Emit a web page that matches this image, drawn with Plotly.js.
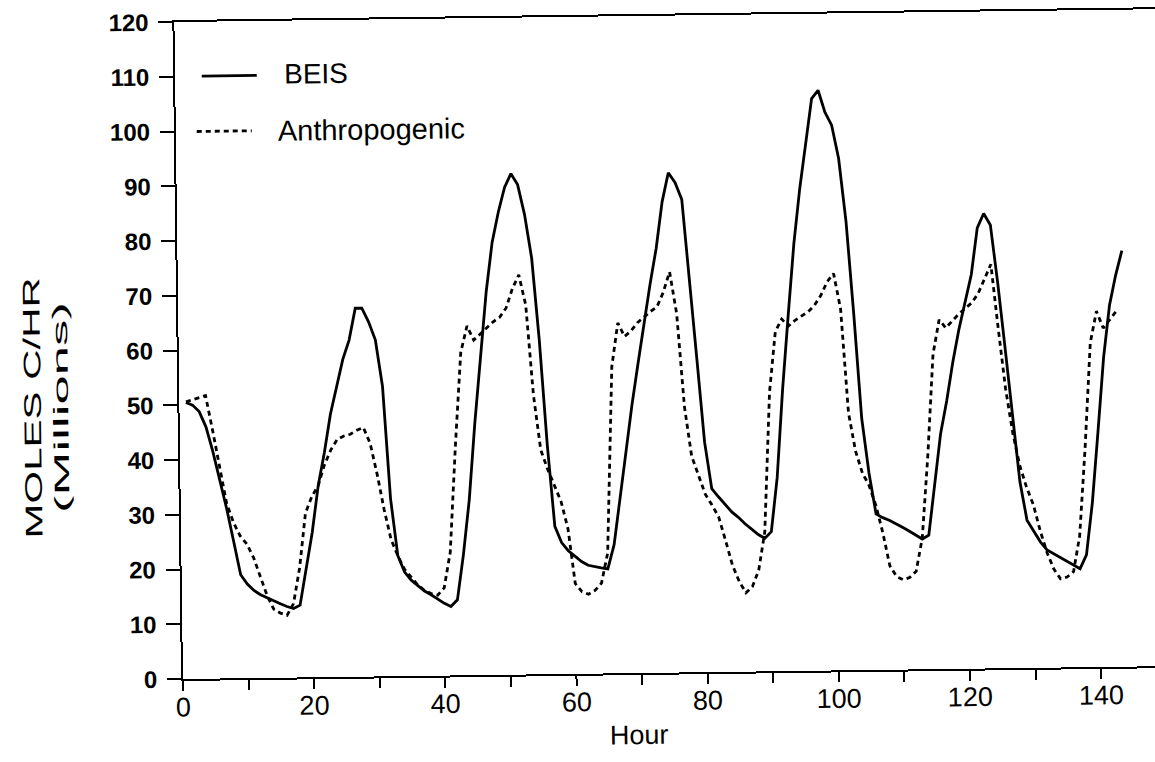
<!DOCTYPE html>
<html>
<head>
<meta charset="utf-8">
<script src="https://cdn.plot.ly/plotly-3.0.1.min.js"></script>
<style>
html, body { margin: 0; padding: 0; background: #ffffff; overflow: hidden; width: 1155px; height: 762px; }
#chart { width: 1170px; height: 762px; transform: rotate(-0.75deg); transform-origin: 183px 679px; }
</style>
</head>
<body>
<div id="chart"></div>
<script>
// Hours and values
var beisHours = [1,2,3,4,5,6,7,8,9,10,11,12,13,14,15,16,17,18,19,20,21,22,23,24,25,26,27,28,29,30,
  31,32,33,34,35,36,37,38,39,40,41,42,43,44,45,46,47,48,49,50,51,52,53,54,55,56,57,58,59,60,
  61,62,63,64,65,66,67,68,69,70,71,72,73,74,75,76,77,78,79,80,81,82,83,84,85,86,87,88,89,90,
  91,92,93,94,95,96,97,98,99,100,101,102,103,104,105,106,107,108,109,110,111,112,113,114,115,116,117,118,119,120,
  121,122,123,124,125,126,127,128,129,130,131,132,133,134,135,136,137,138,139,140,141,142,143,144];
var beisValues = [50.5,50,48.8,46,41.5,36.3,31,25,18.9,17.2,16,15.2,14.6,14,13.5,13,12.6,13.2,20,26.5,
  35,41,48,53,58,61.5,67.3,67.3,64.8,61.5,53,32.5,22,19,17.5,16.5,15.5,14.8,14,13.2,
  12.6,13.8,22,32,46,58,70,79,84.5,89,91.5,89.5,84,76,61,42,27,24,22.5,21.5,
  20.5,19.8,19.5,19.3,19.1,23.5,32,41,49,56.5,64,71,77.5,86,91.3,89.5,86.4,72.5,57,42,
  33.5,32,30.5,29.2,28.2,27,26,25,24.3,25.5,35.4,51.5,65,78,88,96.6,104.5,106,102,99.6,
  93.5,82,65,46,36,28.5,27.8,27.3,26.7,26,25.3,24.6,23.8,24.5,34,43,49,56,62,67,
  72,80.5,83.1,81,70.5,58.5,46.5,34,27,25,23,21.5,20.8,20,19.4,18.7,18,20.5,30,43,
  56.5,66,71.5,76];

var anthHours = [1,2,3,4,5,6,7,8,9,10,11,12,13,14,15,16,17,18,19,20,21,22,23,24,25,26,27,28,29,30,
  31,32,33,34,35,36,37,38,39,40,41,42,43,44,45,46,47,48,49,50,51,52,53,54,55,56,57,58,59,60,
  61,62,63,64,65,66,67,68,69,70,71,72,73,74,75,76,77,78,79,80,81,82,83,84,85,86,87,88,89,90,
  91,92,93,94,95,96,97,98,99,100,101,102,103,104,105,106,107,108,109,110,111,112,113,114,115,116,117,118,119,120,
  121,122,123,124,125,126,127,128,129,130,131,132,133,134,135,136,137,138,139,140,141,142,143];
var anthValues = [50.6,51,51.3,51.7,45.4,38.5,32,28.5,26,24.5,22,18.5,15,12.5,11.8,11.4,13.5,20,30,33,
  35,38.8,41.5,43.4,44,44.3,45,45.5,42.6,37,30.5,25,22,19.5,18,16.6,15.6,15,14.7,16,
  22.5,42,59,63.8,61.2,62.3,63.5,64.5,65.3,67,70.5,73,67.5,51,41,37.5,34.5,31.5,26.5,16.5,
  15,14.5,15.2,16.5,22,56,64,61.5,62.5,64,65,66,66.8,69.5,73.2,65.5,48.5,39.5,36,32.5,
  30.5,28.3,24,19.5,16.5,14.4,15.5,18.5,25.5,51,62,64.3,63,64,64.8,65.5,66.7,68.5,71,72.5,
  66,47,40,36,33.7,30,25,19,17,16.4,16.8,17.9,24,38.9,57.5,63.8,62.3,63.5,64.8,65.8,
  66.8,68.5,71,73.8,62,51,43,37,33,29.8,25,21,18,16.2,16.5,17.5,24,40,59.2,65,
  61.9,63.5,64.9];

var seriesNames = ["BEIS", "Anthropogenic"];
var xTitle = "Hour";
var yTitle = "MOLES C/HR<br>(Millions)";

var FONT = "Liberation Sans, Arial, Helvetica, sans-serif";

var traces = [
  { x: beisHours, y: beisValues, name: seriesNames[0], type: "scatter", mode: "lines",
    line: { color: "#000000", width: 2.8, dash: "solid" }, hoverinfo: "skip" },
  { x: anthHours, y: anthValues, name: seriesNames[1], type: "scatter", mode: "lines",
    line: { color: "#000000", width: 2.8, dash: "5px,4px" }, hoverinfo: "skip" }
];

var layout = {
  width: 1170, height: 762,
  margin: { l: 183, r: 0, t: 22, b: 83, pad: 0 },
  paper_bgcolor: "#ffffff", plot_bgcolor: "#ffffff",
  showlegend: false,
  font: { family: FONT, color: "#000000" },
  xaxis: {
    range: [0, 150.5], autorange: false, automargin: false,
    tickmode: "linear", tick0: 0, dtick: 20,
    ticks: "outside", ticklen: 10, tickwidth: 2, tickcolor: "#000000",
    minor: { tickmode: "linear", tick0: 0, dtick: 10, ticks: "outside", ticklen: 10, tickwidth: 2, tickcolor: "#000000", showgrid: false },
    showgrid: false, zeroline: false,
    showline: true, linecolor: "#000000", linewidth: 2, mirror: true,
    tickfont: { family: FONT, size: 27, color: "#000000" },
    ticklabelstandoff: -7
  },
  yaxis: {
    range: [0, 120], autorange: false, automargin: false,
    tickmode: "linear", tick0: 0, dtick: 10,
    ticks: "outside", ticklen: 14, tickwidth: 2, tickcolor: "#000000",
    showgrid: false, zeroline: false,
    showline: true, linecolor: "#000000", linewidth: 2, mirror: false,
    tickfont: { family: FONT, size: 24, color: "#000000", weight: "bold" },
    ticklabelstandoff: 5,
    title: { text: yTitle, font: { family: FONT, size: 24, color: "#000000" }, standoff: 30 }
  },
  shapes: [
    { type: "line", xref: "paper", yref: "paper", x0: 0.027, x1: 0.0827, y0: 0.9173, y1: 0.9173,
      line: { color: "#000000", width: 2.8, dash: "solid" } },
    { type: "line", xref: "paper", yref: "paper", x0: 0.0212, x1: 0.0769, y0: 0.833, y1: 0.833,
      line: { color: "#000000", width: 2.8, dash: "5px,4px" } }
  ],
  annotations: [
    { xref: "paper", yref: "paper", x: 0.108, y: 0.918, xanchor: "left", yanchor: "middle",
      text: seriesNames[0], showarrow: false, font: { family: FONT, size: 28, color: "#000000" } },
    { xref: "paper", yref: "paper", x: 0.1015, y: 0.832, xanchor: "left", yanchor: "middle",
      text: seriesNames[1], showarrow: false, font: { family: FONT, size: 29, color: "#000000" } },
    { xref: "paper", yref: "paper", x: 0.462, y: -0.0944, xanchor: "center", yanchor: "middle",
      text: xTitle, showarrow: false, font: { family: FONT, size: 27, color: "#000000" } }
  ]
};

Plotly.newPlot("chart", traces, layout, { staticPlot: true, displayModeBar: false }).then(function (gd) {
  // place and stretch the y axis title like the scanned original
  var yt = gd.querySelector(".g-ytitle text");
  if (yt) {
    var SCALE = 1.75;
    var lines = yt.querySelectorAll("tspan.line");
    if (lines.length > 1) {
      var l2 = lines[1];
      l2.style.fontSize = "21px";
      l2.setAttribute("lengthAdjust", "spacingAndGlyphs");
      l2.setAttribute("textLength", String(211 / SCALE));
    }
    var b = yt.getBBox();
    var cx = b.x + b.width / 2, cy = b.y + b.height / 2;
    yt.setAttribute("transform", "translate(49,406) scale(1," + SCALE + ") rotate(-90) translate(" + (-cx) + "," + (-cy) + ")");
  }
});
</script>
</body>
</html>
